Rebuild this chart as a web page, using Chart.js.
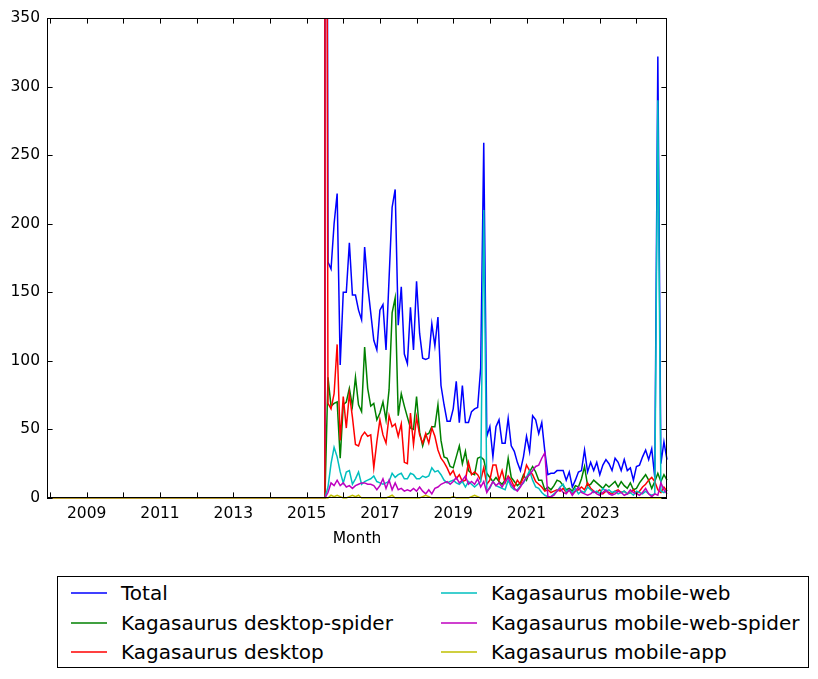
<!DOCTYPE html>
<html>
<head>
<meta charset="utf-8">
<script src="https://cdn.jsdelivr.net/npm/chart.js@4.4.0/dist/chart.umd.min.js"></script>
<style>
  html, body { margin: 0; padding: 0; background: #fff; }
  #contenedor { position: relative; width: 818px; height: 679px; }
  #grafica { position: absolute; left: 0; top: 0; }
  #leyenda {
    position: absolute; left: 57px; top: 576px; width: 752px; height: 92px;
    border: 1px solid #000; box-sizing: border-box; background: #fff;
    font-family: "DejaVu Sans"; font-size: 20px; color: #000;
  }
  .item { position: absolute; height: 24px; line-height: 24px; white-space: nowrap; }
  .muestra { position: absolute; left: 0; top: 0; }
  .texto { position: absolute; left: 50px; top: 0; }
</style>
</head>
<body>
<div id="contenedor">
  <canvas id="grafica" width="818" height="679"></canvas>
  <div id="leyenda"></div>
</div>
<script>
// Vistas mensuales por plataforma: el eje empieza en 2007-12, todo a cero
// hasta 2015-07, y los datos reales arrancan ese mismo mes

const mesAncla = '2007-12';
const mesFinVacio = '2015-07';
const mesInicio = [2015, 7];

const total = [0, 0, 1300,
  172, 167, 200, 222, 97, 150, 150, 186, 148, 148,
  137, 130, 183, 155, 135, 115, 108, 137, 141, 108,
  160, 212, 225, 126, 154, 105, 98, 139, 108, 158,
  120, 102, 101, 102, 127, 111, 132, 82, 68, 56,
  56, 65, 85, 55, 82, 55, 55, 63, 65, 66,
  95, 259, 45, 52, 30, 52, 57, 40, 40, 58,
  38, 34, 26, 20, 30, 45, 34, 60, 57, 47,
  55, 34, 17, 18, 18, 20, 20, 20, 13, 19,
  8, 13, 19, 20, 35, 19, 26, 20, 26, 17,
  24, 28, 25, 20, 29, 26, 20, 28, 20, 22,
  13, 23, 24, 30, 35, 28, 36, 15, 322, 25,
  41, 28];

const desktopSpider = [0, 0, 0,
  88, 67, 69, 70, 29, 68, 70, 80, 67, 88,
  68, 63, 110, 80, 67, 69, 57, 62, 70, 57,
  79, 135, 146, 60, 76, 67, 59, 51, 50, 74,
  48, 38, 46, 47, 52, 52, 68, 42, 30, 29,
  23, 22, 30, 38, 25, 34, 20, 18, 17, 29,
  30, 28, 18, 15, 12, 15, 12, 10, 13, 29,
  15, 12, 9, 11, 17, 13, 19, 23, 19, 13,
  13, 6, 8, 6, 9, 13, 12, 9, 6, 7,
  5, 9, 8, 14, 23, 9, 10, 13, 11, 9,
  7, 10, 8, 10, 12, 8, 12, 9, 7, 11,
  6, 7, 11, 14, 17, 13, 7, 12, 18, 12,
  17, 13];

const desktop = [0, 0, 1200,
  69, 65, 76, 112, 42, 74, 51, 76, 59, 39,
  38, 45, 48, 45, 46, 22, 41, 57, 46, 40,
  60, 52, 54, 45, 54, 26, 25, 62, 39, 59,
  46, 40, 47, 40, 51, 45, 35, 29, 26, 22,
  17, 20, 14, 17, 12, 13, 26, 17, 19, 17,
  13, 22, 10, 13, 24, 24, 13, 20, 11, 16,
  13, 8, 13, 10, 15, 24, 20, 17, 12, 10,
  8, 5, 6, 4, 5, 6, 5, 7, 4, 6,
  3, 5, 6, 8, 6, 11, 7, 5, 4, 6,
  3, 5, 4, 3, 5, 6, 4, 5, 3, 4,
  6, 3, 5, 8, 10, 13, 15, 12, 6, 4,
  8, 5];

const mobileWeb = [0, 0, 0,
  8, 25, 37, 30, 19, 11, 19, 20, 10, 14,
  19, 10, 12, 13, 14, 16, 12, 11, 10, 11,
  12, 18, 15, 17, 18, 14, 14, 18, 17, 14,
  14, 16, 15, 16, 22, 19, 20, 17, 13, 11,
  12, 13, 11, 10, 12, 8, 12, 10, 8, 10,
  12, 210, 5, 7, 12, 9, 8, 7, 6, 13,
  8, 6, 6, 9, 11, 15, 20, 13, 8, 7,
  4, 2, 1, 1, 3, 5, 8, 10, 5, 6,
  4, 7, 3, 5, 4, 8, 6, 4, 5, 3,
  7, 5, 6, 4, 5, 3, 4, 5, 3, 4,
  2, 5, 4, 3, 5, 3, 2, 3, 290, 5,
  4, 6];

const mobileWebSpider = [0, 0, 0,
  4, 11, 9, 13, 9, 11, 8, 9, 7, 9,
  10, 11, 11, 10, 10, 9, 6, 9, 14, 7,
  13, 6, 11, 6, 7, 5, 6, 5, 7, 5,
  8, 5, 3, 6, 3, 7, 8, 10, 11, 12,
  10, 12, 15, 11, 13, 16, 10, 12, 10, 14,
  8, 12, 4, 8, 12, 9, 11, 8, 12, 15,
  10, 7, 5, 8, 12, 15, 17, 20, 23, 24,
  29, 33, 1, 1, 2, 5, 7, 4, 3, 6,
  2, 5, 8, 4, 3, 2, 3, 5, 3, 2,
  4, 6, 3, 2, 3, 5, 4, 2, 3, 6,
  4, 3, 2, 4, 7, 3, 1, 3, 2, 11,
  6, 3];

const mobileApp = [0, 0, 0,
  0, 2, 1, 2, 1, 0, 0, 1, 2, 1,
  2, 0, 0, 0, 0, 0, 0, 0, 0, 0,
  1, 2, 0, 0, 0, 0, 0, 0, 0, 0,
  0, 1, 2, 1, 0, 0, 0, 0, 0, 0,
  0, 1, 0, 0, 0, 0, 0, 1, 2, 1,
  0, 0, 0, 0, 0, 0, 0, 0, 0, 0,
  0, 0, 0, 0, 0, 0, 0, 0, 0, 0,
  0, 0, 0, 0, 0, 0, 0, 0, 0, 0,
  0, 0, 0, 0, 0, 0, 0, 0, 0, 0,
  0, 0, 0, 0, 0, 0, 0, 0, 0, 0,
  0, 0, 0, 0, 0, 0, 0, 0, 0, 0,
  0, 0];

const etiquetas = [
  'Total',
  'Kagasaurus desktop-spider',
  'Kagasaurus desktop',
  'Kagasaurus mobile-web',
  'Kagasaurus mobile-web-spider',
  'Kagasaurus mobile-app'
];
const colores = ['#0000ff', '#008000', '#ff0000', '#00bfbf', '#bf00bf', '#bfbf00'];
const series = [total, desktopSpider, desktop, mobileWeb, mobileWebSpider, mobileApp];

// Marcas del eje X (cada año) y años con texto
const aniosMarca = [2008, 2009, 2010, 2011, 2012, 2013, 2014, 2015, 2016,
                    2017, 2018, 2019, 2020, 2021, 2022, 2023, 2024];
const aniosTexto = [2009, 2011, 2013, 2015, 2017, 2019, 2021, 2023];
const marcasY = [0, 50, 100, 150, 200, 250, 300, 350];


// ─────────────────────────────────────────────
// Meses -> año decimal para el eje lineal
// ─────────────────────────────────────────────
function mesADecimal(texto) {
  const [a, m] = texto.split('-').map(Number);
  return a + (m - 1) / 12;
}

const meses = [mesAncla, mesFinVacio];
for (let i = 0; i < total.length - 2; i++) {
  const n = mesInicio[1] - 1 + i;
  const a = mesInicio[0] + Math.floor(n / 12);
  const m = (n % 12) + 1;
  meses.push(a + '-' + String(m).padStart(2, '0'));
}
const xs = meses.map(mesADecimal);
const ultimoMes = meses[meses.length - 1];


// ─────────────────────────────────────────────
// Marco completo y marcas hacia dentro (estilo clásico)
// ─────────────────────────────────────────────
const marcoEjes = {
  id: 'marcoEjes',
  afterDatasetsDraw(chart) {
    const { ctx, chartArea: a, scales: { x, y } } = chart;
    const largo = 5.6;
    ctx.save();
    ctx.strokeStyle = '#000';
    ctx.lineWidth = 1;
    ctx.beginPath();
    aniosMarca.forEach(v => {
      const px = Math.round(x.getPixelForValue(v)) + 0.5;
      ctx.moveTo(px, a.bottom); ctx.lineTo(px, a.bottom - largo);
      ctx.moveTo(px, a.top); ctx.lineTo(px, a.top + largo);
    });
    marcasY.forEach(v => {
      const py = Math.round(y.getPixelForValue(v)) + 0.5;
      ctx.moveTo(a.left, py); ctx.lineTo(a.left + largo, py);
      ctx.moveTo(a.right, py); ctx.lineTo(a.right - largo, py);
    });
    ctx.stroke();
    ctx.strokeRect(a.left + 0.5, a.top + 0.5, a.width - 1, a.height - 1);
    ctx.restore();
  }
};

Chart.defaults.font.family = 'DejaVu Sans';
Chart.defaults.color = '#000';

new Chart(document.getElementById('grafica'), {
  type: 'line',
  data: {
    datasets: series.map((s, i) => ({
      label: etiquetas[i],
      data: s.map((v, j) => ({ x: xs[j], y: v })),
      borderColor: colores[i],
      backgroundColor: colores[i],
      borderWidth: 1.5,
      pointRadius: 0,
      tension: 0,
      fill: false,
      order: series.length - i,
      clip: { left: 2, top: 0, right: 2, bottom: 2 }
    }))
  },
  options: {
    responsive: false,
    animation: false,
    layout: { padding: { left: 0, top: 18, right: 151, bottom: 131 } },
    plugins: { legend: { display: false }, tooltip: { enabled: false } },
    scales: {
      x: {
        type: 'linear',
        min: mesADecimal(mesAncla),
        max: mesADecimal(ultimoMes),
        afterFit: s => { s.height = 50; },
        afterBuildTicks: s => { s.ticks = aniosMarca.map(v => ({ value: v })); },
        grid: { display: false, drawTicks: false },
        border: { display: false },
        ticks: {
          autoSkip: false,
          maxRotation: 0,
          padding: 7,
          font: { size: 15.5 },
          callback: v => aniosTexto.includes(v) ? String(v) : ''
        },
        title: { display: true, text: 'Month', font: { size: 15.5 }, padding: { top: 0, bottom: 0 } }
      },
      y: {
        min: 0,
        max: 350,
        afterFit: s => { s.width = 47; },
        afterBuildTicks: s => { s.ticks = marcasY.map(v => ({ value: v })); },
        grid: { display: false, drawTicks: false },
        border: { display: false },
        ticks: { padding: 7, font: { size: 15.5 } }
      }
    }
  },
  plugins: [marcoEjes]
});


// ─────────────────────────────────────────────
// Leyenda en dos columnas bajo la gráfica
// ─────────────────────────────────────────────
const leyenda = document.getElementById('leyenda');
const columnasX = [13, 383];
const filasY = [4, 34, 63];
etiquetas.forEach((t, i) => {
  const col = Math.floor(i / 3);
  const fila = i % 3;
  const item = document.createElement('div');
  item.className = 'item';
  item.style.left = columnasX[col] + 'px';
  item.style.top = filasY[fila] + 'px';
  item.innerHTML =
    `<svg class="muestra" width="36" height="24"><line x1="0" y1="12" x2="36" y2="12" stroke="${colores[i]}" stroke-width="1.5"/></svg>` +
    `<span class="texto">${t}</span>`;
  leyenda.appendChild(item);
});
</script>
</body>
</html>
